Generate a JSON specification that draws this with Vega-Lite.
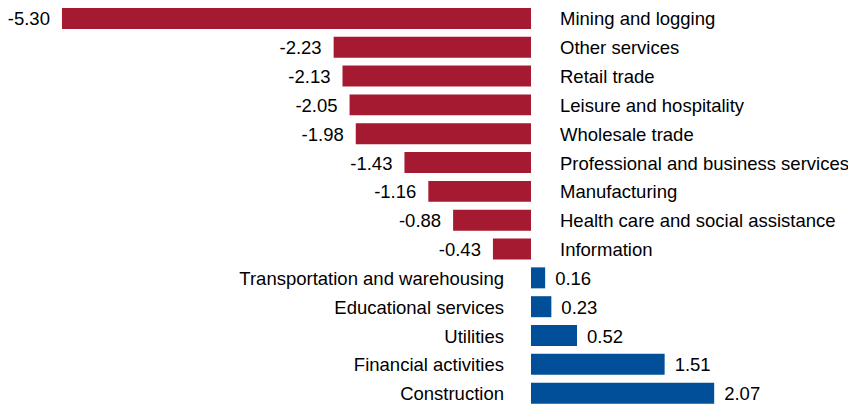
{
  "$schema": "https://vega.github.io/schema/vega-lite/v6.json",
  "width": 848,
  "height": 408,
  "padding": 0,
  "autosize": {"type": "none"},
  "background": "white",
  "config": {"view": {"stroke": null}, "font": "Liberation Sans"},
  "data": {
    "values": [
      {"industry": "Mining and logging", "value": -5.30},
      {"industry": "Other services", "value": -2.23},
      {"industry": "Retail trade", "value": -2.13},
      {"industry": "Leisure and hospitality", "value": -2.05},
      {"industry": "Wholesale trade", "value": -1.98},
      {"industry": "Professional and business services", "value": -1.43},
      {"industry": "Manufacturing", "value": -1.16},
      {"industry": "Health care and social assistance", "value": -0.88},
      {"industry": "Information", "value": -0.43},
      {"industry": "Transportation and warehousing", "value": 0.16},
      {"industry": "Educational services", "value": 0.23},
      {"industry": "Utilities", "value": 0.52},
      {"industry": "Financial activities", "value": 1.51},
      {"industry": "Construction", "value": 2.07}
    ]
  },
  "transform": [
    {"calculate": "replace(format(datum.value, '.2f'), '\u2212', '-')", "as": "label"}
  ],
  "encoding": {
    "y": {
      "field": "industry",
      "type": "nominal",
      "sort": null,
      "axis": null,
      "scale": {"paddingInner": 0.272, "paddingOuter": 0.212, "align": 0.646}
    }
  },
  "layer": [
    {
      "mark": {"type": "bar"},
      "encoding": {
        "x": {
          "field": "value",
          "type": "quantitative",
          "axis": null,
          "scale": {"domain": [-6.0, 3.582], "nice": false, "zero": false}
        },
        "color": {
          "condition": {"test": "datum.value < 0", "value": "#A51931"},
          "value": "#004F98"
        }
      }
    },
    {
      "transform": [{"filter": "datum.value < 0"}],
      "mark": {"type": "text", "align": "right", "baseline": "middle", "dx": -12, "dy": 1, "fontSize": 18.5, "color": "#000000"},
      "encoding": {
        "x": {"field": "value", "type": "quantitative"},
        "text": {"field": "label"}
      }
    },
    {
      "transform": [{"filter": "datum.value < 0"}],
      "mark": {"type": "text", "align": "left", "baseline": "middle", "dx": 29, "dy": 1, "fontSize": 18.5, "color": "#000000"},
      "encoding": {
        "x": {"datum": 0, "type": "quantitative"},
        "text": {"field": "industry"}
      }
    },
    {
      "transform": [{"filter": "datum.value >= 0"}],
      "mark": {"type": "text", "align": "left", "baseline": "middle", "dx": 10, "dy": 1, "fontSize": 18.5, "color": "#000000"},
      "encoding": {
        "x": {"field": "value", "type": "quantitative"},
        "text": {"field": "label"}
      }
    },
    {
      "transform": [{"filter": "datum.value >= 0"}],
      "mark": {"type": "text", "align": "right", "baseline": "middle", "dx": -27, "dy": 1, "fontSize": 18.5, "color": "#000000"},
      "encoding": {
        "x": {"datum": 0, "type": "quantitative"},
        "text": {"field": "industry"}
      }
    }
  ]
}
